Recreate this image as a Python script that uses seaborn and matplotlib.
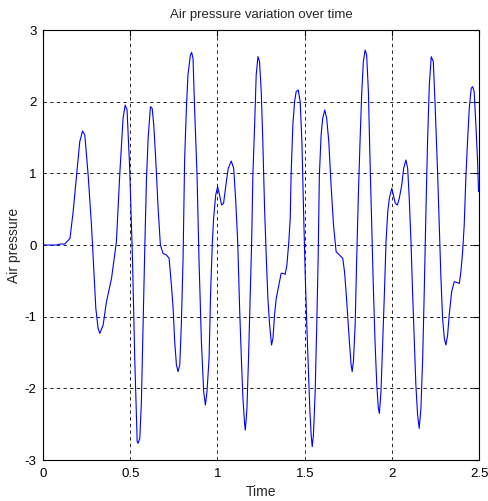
import matplotlib

matplotlib.use("Agg")
import matplotlib.pyplot as plt
import pandas as pd
import seaborn as sns

# values
time = [
    0.0, 0.04, 0.078, 0.10, 0.126, 0.135, 0.155, 0.173, 0.193, 0.211,
    0.227, 0.240, 0.259, 0.278, 0.288, 0.303, 0.316, 0.326, 0.345, 0.364,
    0.393, 0.421, 0.440, 0.459, 0.471, 0.482, 0.497, 0.513, 0.526, 0.540,
    0.545, 0.555, 0.564, 0.574, 0.584, 0.593, 0.603, 0.616, 0.626, 0.635,
    0.646, 0.660, 0.673, 0.688, 0.708, 0.723, 0.736, 0.746, 0.755, 0.765,
    0.774, 0.784, 0.793, 0.803, 0.812, 0.822, 0.831, 0.845, 0.852, 0.860,
    0.869, 0.883, 0.894, 0.908, 0.921, 0.931, 0.940, 0.952, 0.961, 0.971,
    0.978, 0.990, 1.001, 1.012, 1.024, 1.035, 1.051, 1.062, 1.079, 1.093,
    1.104, 1.116, 1.127, 1.137, 1.146, 1.156, 1.160, 1.169, 1.178, 1.188,
    1.196, 1.203, 1.213, 1.222, 1.232, 1.241, 1.251, 1.260, 1.270, 1.280,
    1.289, 1.299, 1.310, 1.318, 1.327, 1.337, 1.352, 1.365, 1.375, 1.388,
    1.398, 1.409, 1.417, 1.422, 1.432, 1.442, 1.451, 1.463, 1.474, 1.484,
    1.493, 1.503, 1.512, 1.522, 1.529, 1.537, 1.543, 1.550, 1.560, 1.569,
    1.577, 1.584, 1.594, 1.603, 1.615, 1.626, 1.638, 1.651, 1.665, 1.680,
    1.699, 1.718, 1.728, 1.737, 1.747, 1.756, 1.766, 1.772, 1.779, 1.789,
    1.798, 1.808, 1.817, 1.827, 1.836, 1.846, 1.855, 1.865, 1.874, 1.884,
    1.894, 1.903, 1.913, 1.922, 1.928, 1.937, 1.947, 1.957, 1.966, 1.976,
    1.985, 1.999, 2.008, 2.019, 2.031, 2.042, 2.056, 2.067, 2.080, 2.090,
    2.099, 2.109, 2.118, 2.128, 2.137, 2.147, 2.156, 2.166, 2.176, 2.185,
    2.195, 2.204, 2.214, 2.225, 2.237, 2.248, 2.262, 2.271, 2.280, 2.290,
    2.300, 2.309, 2.319, 2.328, 2.342, 2.357, 2.370, 2.386, 2.395, 2.405,
    2.414, 2.424, 2.433, 2.443, 2.454, 2.462, 2.471, 2.481, 2.490, 2.496,
]
pressure = [
    0.0, 0.0, 0.0, 0.014, 0.014, 0.04, 0.093, 0.465, 0.977, 1.442,
    1.591, 1.535, 0.977, 0.279, -0.186, -0.884, -1.163, -1.233, -1.116, -0.791,
    -0.465, 0.047, 0.977, 1.767, 1.953, 1.884, 1.070, -0.186, -1.581, -2.744,
    -2.767, -2.698, -2.2, -1.1, 0.0, 0.9, 1.5, 1.930, 1.907, 1.674,
    1.209, 0.512, 0.0, -0.116, -0.140, -0.186, -0.558, -0.884, -1.349, -1.674,
    -1.767, -1.674, -1.116, -0.186, 1.209, 1.907, 2.372, 2.651, 2.688, 2.605,
    1.907, 0.977, -0.186, -1.349, -2.047, -2.233, -2.047, -1.581, -0.651, 0.047,
    0.372, 0.698, 0.814, 0.698, 0.558, 0.581, 0.884, 1.070, 1.172, 1.070,
    0.651, 0.047, -0.884, -1.581, -2.140, -2.512, -2.581, -2.279, -1.581, -0.651,
    0.047, 0.977, 1.674, 2.372, 2.628, 2.558, 2.140, 1.442, 0.512, -0.186,
    -0.744, -1.116, -1.395, -1.302, -0.977, -0.744, -0.558, -0.395, -0.395, -0.409,
    -0.279, 0.047, 0.372, 0.977, 1.674, 2.0, 2.140, 2.163, 2.0, 1.442,
    0.512, -0.419, -1.116, -1.814, -2.279, -2.651, -2.814, -2.651, -2.047, -1.116,
    -0.186, 0.977, 1.535, 1.767, 1.884, 1.767, 1.442, 0.837, 0.279, -0.093,
    -0.140, -0.186, -0.372, -0.651, -1.023, -1.349, -1.674, -1.767, -1.628, -1.116,
    -0.186, 0.744, 1.442, 2.140, 2.558, 2.721, 2.651, 2.140, 1.209, 0.279,
    -0.651, -1.349, -1.953, -2.279, -2.349, -2.047, -1.349, -0.651, 0.047, 0.465,
    0.651, 0.791, 0.698, 0.581, 0.558, 0.651, 0.837, 1.070, 1.186, 1.070,
    0.651, 0.047, -0.651, -1.349, -1.953, -2.372, -2.558, -2.279, -1.581, -0.651,
    0.512, 1.442, 2.233, 2.628, 2.558, 1.907, 0.977, 0.279, -0.419, -1.023,
    -1.302, -1.395, -1.256, -0.977, -0.651, -0.512, -0.521, -0.535, -0.372, -0.093,
    0.279, 0.977, 1.442, 1.907, 2.186, 2.209, 2.140, 1.674, 1.209, 0.744,
]
x_ticks = [0, 0.5, 1, 1.5, 2, 2.5]
y_ticks = [-3, -2, -1, 0, 1, 2, 3]

sns.set_style("white")
plt.rcParams["font.family"] = ["Liberation Sans", "DejaVu Sans"]

df = pd.DataFrame({"Time": time, "Air pressure": pressure})

fig = plt.figure(figsize=(4.88, 5.01), dpi=100)
ax = fig.add_axes([0.088, 0.0818, 0.894, 0.8583])
sns.lineplot(data=df, x="Time", y="Air pressure", ax=ax, color="#0000ff",
             lw=0.8, sort=False, estimator=None)

ax.set_xlim(0, 2.5)
ax.set_ylim(-3, 3)
ax.set_xticks(x_ticks)
ax.set_xticklabels([f"{v:g}" for v in x_ticks])
ax.set_yticks(y_ticks)
ax.set_yticklabels([f"{v:g}" for v in y_ticks])
ax.grid(True, color="black", linestyle=(0, (4, 4)), linewidth=0.6)
ax.tick_params(direction="in", length=4, width=0.8, top=True, right=True,
               labelsize=9.5, colors="black")
ax.tick_params(axis="x", pad=5.5)
ax.tick_params(axis="y", pad=4.5)
for sp in ax.spines.values():
    sp.set_visible(True)
    sp.set_color("black")
    sp.set_linewidth(0.8)

ax.set_title("Air pressure variation over time", fontsize=9.5, pad=9)
ax.set_xlabel("Time", fontsize=10, labelpad=4)
ax.set_ylabel("Air pressure", fontsize=10, labelpad=3)

fig.savefig("out.png", dpi=100)
